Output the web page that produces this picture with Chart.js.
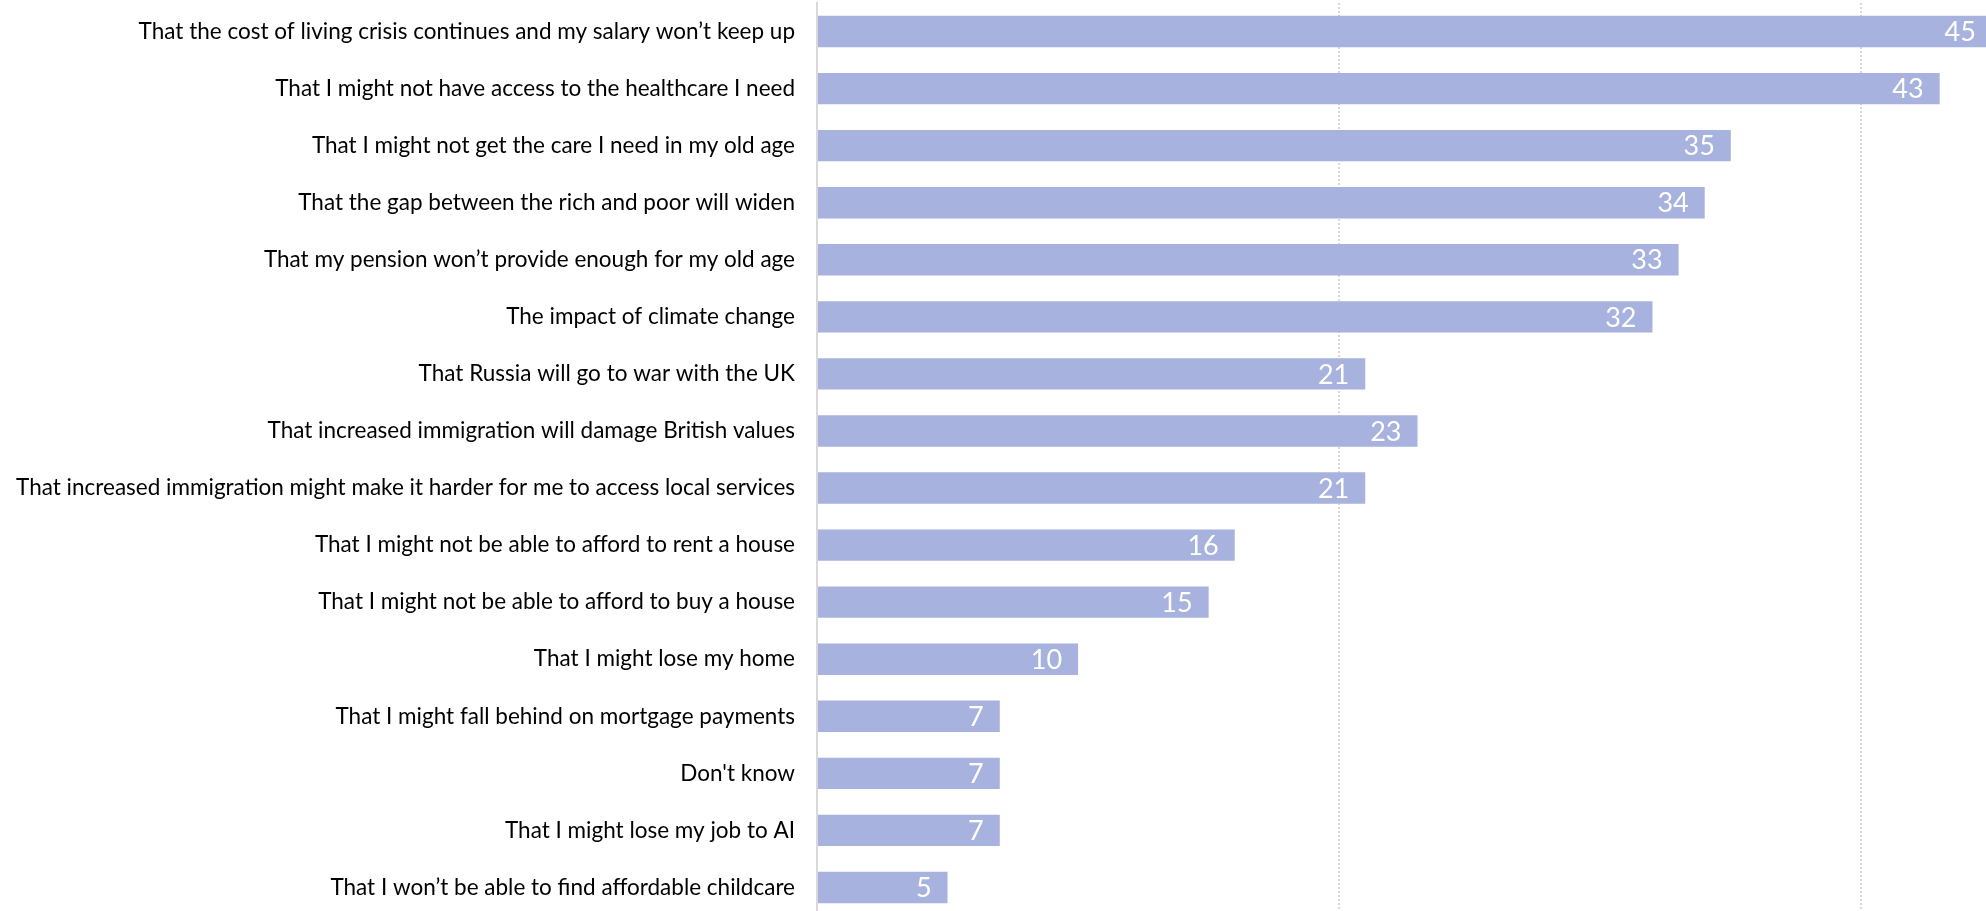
<!DOCTYPE html>
<html>
<head>
<meta charset="utf-8">
<script src="https://cdn.jsdelivr.net/npm/chart.js@4"></script>
<style>
  html, body { margin: 0; padding: 0; background: #fff; overflow: hidden; }
  #wrap { position: absolute; left: 0; top: 0; width: 2018px; height: 916px; }
</style>
</head>
<body>
<div id="wrap"><canvas id="worries"></canvas></div>
<script>
const worryLabels = [
  'That the cost of living crisis continues and my salary won\u2019t keep up',
  'That I might not have access to the healthcare I need',
  'That I might not get the care I need in my old age',
  'That the gap between the rich and poor will widen',
  'That my pension won\u2019t provide enough for my old age',
  'The impact of climate change',
  'That Russia will go to war with the UK',
  'That increased immigration will damage British values',
  'That increased immigration might make it harder for me to access local services',
  'That I might not be able to afford to rent a house',
  'That I might not be able to afford to buy a house',
  'That I might lose my home',
  'That I might fall behind on mortgage payments',
  'Don\'t know',
  'That I might lose my job to AI',
  'That I won\u2019t be able to find affordable childcare'
];
const worryValues = [45, 43, 35, 34, 33, 32, 21, 23, 21, 16, 15, 10, 7, 7, 7, 5];
const gridTicks = [0, 20, 40];

const BAR_COLOR = '#a7b2de';
const LABEL_FONT = 'Lato, "Open Sans", sans-serif';

// white number drawn just inside the end of each bar
const barValueLabels = {
  id: 'barValueLabels',
  afterDatasetsDraw(chart) {
    const ctx = chart.ctx;
    const meta = chart.getDatasetMeta(0);
    ctx.save();
    ctx.font = '27px ' + LABEL_FONT;
    ctx.fillStyle = '#ffffff';
    ctx.textAlign = 'right';
    ctx.textBaseline = 'middle';
    meta.data.forEach((bar, i) => {
      ctx.fillText(String(worryValues[i]), bar.x - 16, bar.y + 1);
    });
    ctx.restore();
  }
};

new Chart(document.getElementById('worries'), {
  type: 'bar',
  data: {
    labels: worryLabels,
    datasets: [{
      data: worryValues,
      backgroundColor: BAR_COLOR,
      borderWidth: 0,
      categoryPercentage: 1,
      barPercentage: 0.55
    }]
  },
  options: {
    indexAxis: 'y',
    responsive: true,
    maintainAspectRatio: false,
    animation: false,
    layout: { autoPadding: false, padding: { top: 3, right: 0, bottom: 0, left: 0 } },
    plugins: {
      legend: { display: false },
      tooltip: { enabled: false }
    },
    scales: {
      x: {
        min: 0,
        max: 46,
        afterBuildTicks: scale => { scale.ticks = gridTicks.map(v => ({ value: v })); },
        afterFit: scale => { scale.height = 0; },
        ticks: { display: false },
        grid: { color: '#d9d9d9', lineWidth: 2, drawTicks: false },
        border: { display: false, dash: [2, 2] }
      },
      y: {
        // fixed label column; labels sit in the band centres so no end padding is needed
        afterFit: scale => {
          scale.width = 817;
          scale.paddingTop = 0;
          scale.paddingBottom = 0;
        },
        ticks: {
          color: '#000000',
          padding: 22,
          font: { family: LABEL_FONT, size: 22.5 }
        },
        grid: { display: false, drawTicks: false },
        border: { display: true, color: '#d9d9d9', width: 2 }
      }
    }
  },
  plugins: [barValueLabels]
});
</script>
</body>
</html>
